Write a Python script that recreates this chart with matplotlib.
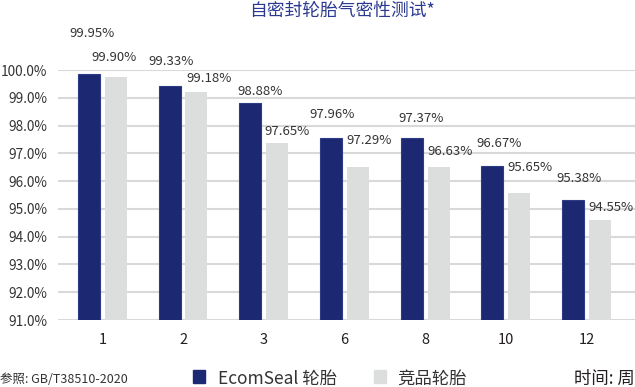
import numpy as np
import matplotlib
matplotlib.use("Agg")
import matplotlib.pyplot as plt

plt.rcParams['font.family'] = ['Noto Sans CJK SC', 'DejaVu Sans']

# 数据
weeks = ["1", "2", "3", "6", "8", "10", "12"]
ecom_bar = [99.85, 99.44, 98.81, 97.54, 97.54, 96.56, 95.31]   # 柱高
rival_bar = [99.75, 99.20, 97.37, 96.50, 96.50, 95.58, 94.59]
ecom_txt = ["99.95%", "99.33%", "98.88%", "97.96%", "97.37%", "96.67%", "95.38%"]
rival_txt = ["99.90%", "99.18%", "97.65%", "97.29%", "96.63%", "95.65%", "94.55%"]
yticks = [91, 92, 93, 94, 95, 96, 97, 98, 99, 100]

# 标注偏移 (点)
ecom_dx = [2, 1, 7, 1, 7, 5, 4]
ecom_dy = [29, 17, 8, 17, 14, 16, 16]
rival_dx = [-1, 9, 7, 8, 8, 8, 8]
rival_dy = [14, 10, 8, 19, 11, 18, 9]

navy = "#1d2873"
grey = "#dcdddd"

fig = plt.figure(figsize=(6.35, 3.87), dpi=100)
ax = fig.add_axes([0.0913, 0.173, 0.9087, 0.646])

x = np.arange(len(weeks))
w = 0.273
off = 0.166
ax.bar(x - off, np.array(ecom_bar) - 91, w, bottom=91, color=navy,
       edgecolor="#2e3b85", linewidth=0.8, zorder=3)
ax.bar(x + off, np.array(rival_bar) - 91, w, bottom=91, color=grey, zorder=3)

for i in range(len(weeks)):
    ax.annotate(ecom_txt[i], (x[i] - off, ecom_bar[i]),
                xytext=(ecom_dx[i], ecom_dy[i]), textcoords="offset points",
                ha="center", va="center", fontsize=9.5, color="#333333",
                annotation_clip=False)
    ax.annotate(rival_txt[i], (x[i] + off, rival_bar[i]),
                xytext=(rival_dx[i], rival_dy[i]), textcoords="offset points",
                ha="center", va="center", fontsize=9.5, color="#333333",
                annotation_clip=False)

ax.set_ylim(91, 100)
ax.set_xlim(-0.55, 6.6)
ax.set_yticks(yticks)
ax.set_yticklabels(["%.1f%%" % v for v in yticks], fontsize=9.8, color="#333333")
ax.set_xticks(x)
ax.set_xticklabels(weeks, fontsize=10.5, color="#231f20")
ax.tick_params(length=0)
ax.tick_params(axis="y", pad=7.5)
ax.tick_params(axis="x", pad=9)
ax.grid(axis="y", color="#d9d9d9", linewidth=1.5, zorder=0)
for s in ax.spines.values():
    s.set_visible(False)

fig.text(0.539, 0.973, "自密封轮胎气密性测试*", ha="center", va="center",
         fontsize=12.8, color="#2b3990")
fig.text(0.0, 0.02, "参照: GB/T38510-2020", ha="left", va="center",
         fontsize=9, color="#333333")

# 图例
fig.patches.append(plt.Rectangle((0.304, 0.011), 0.0195, 0.032, color=navy,
                                 transform=fig.transFigure, figure=fig))
fig.text(0.343, 0.022, "EcomSeal 轮胎", ha="left", va="center",
         fontsize=12.5, color="#333333")
fig.patches.append(plt.Rectangle((0.589, 0.011), 0.0195, 0.032, color=grey,
                                 transform=fig.transFigure, figure=fig))
fig.text(0.625, 0.022, "竞品轮胎", ha="left", va="center",
         fontsize=12.5, color="#333333")
fig.text(1.0, 0.022, "时间: 周", ha="right", va="center",
         fontsize=12.5, color="#231f20")

fig.savefig("out.png", dpi=100)
